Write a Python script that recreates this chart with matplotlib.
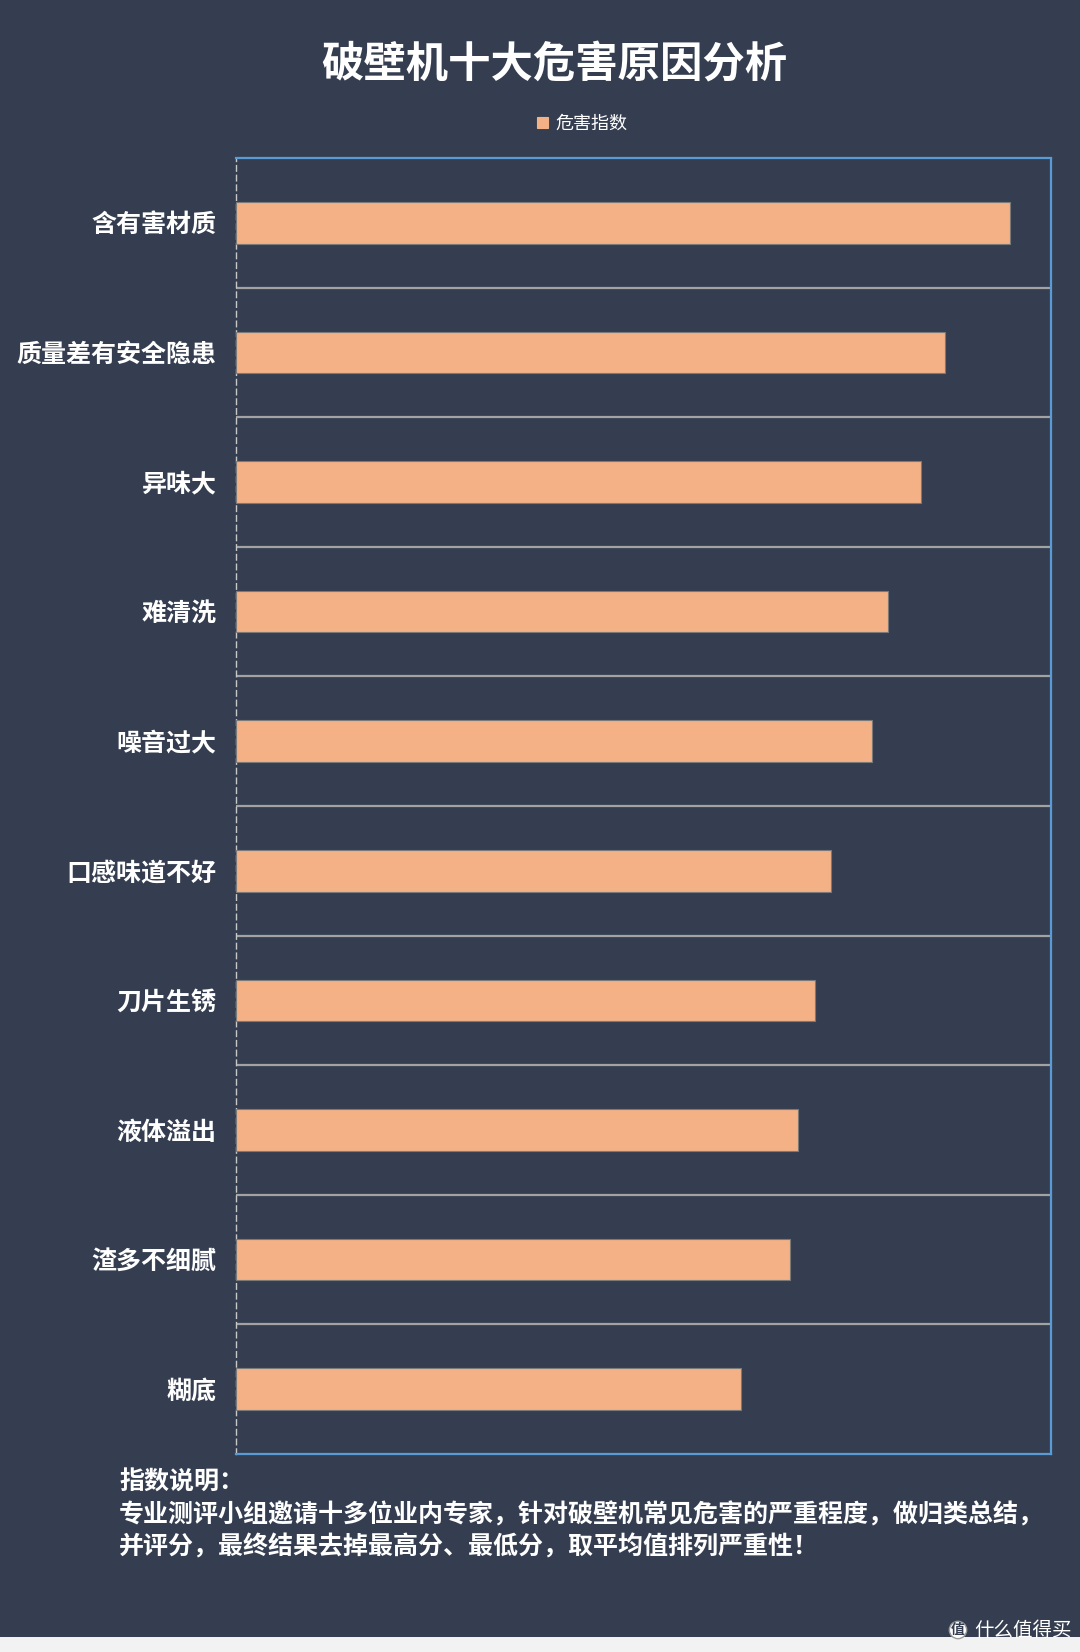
import matplotlib
matplotlib.use("Agg")
import matplotlib.pyplot as plt
from matplotlib.patches import Rectangle

plt.rcParams['font.family'] = ['Noto Sans CJK SC', 'DejaVu Sans']

# data (score out of 10)
categories = ['含有害材质', '质量差有安全隐患', '异味大', '难清洗', '噪音过大',
              '口感味道不好', '刀片生锈', '液体溢出', '渣多不细腻', '糊底']
scores = [9.5, 8.7, 8.4, 8.0, 7.8, 7.3, 7.1, 6.9, 6.8, 6.2]
series_name = '危害指数'
title = '破壁机十大危害原因分析'
note_lines = ['指数说明：',
              '专业测评小组邀请十多位业内专家，针对破壁机常见危害的严重程度，做归类总结，',
              '并评分，最终结果去掉最高分、最低分，取平均值排列严重性！']

bg = '#343e50'
bar_color = '#f3b185'

fig = plt.figure(figsize=(10.8, 16.52), dpi=100, facecolor=bg)
ax = fig.add_axes([236/1080, 1-1454/1652, 815/1080, 1296/1652])
ax.set_facecolor(bg)

pos = list(range(len(categories)))
ax.barh(pos, scores, height=0.32, color=bar_color, edgecolor='#7a7a7a',
        linewidth=0.8, label=series_name, zorder=3)
ax.set_xlim(0, 10)
ax.set_ylim(len(categories) - 0.5, -0.5)

ax.set_yticks(pos)
ax.set_yticklabels(categories, color='white', fontsize=18, fontweight='bold')
ax.tick_params(axis='y', which='major', length=0, pad=14)
ax.set_yticks([p + 0.5 for p in pos[:-1]], minor=True)
ax.tick_params(axis='y', which='minor', length=0)
ax.grid(axis='y', which='minor', color='#a3a3a3', linewidth=1.6, zorder=1)
ax.set_xticks([])

ax.spines['left'].set_color('#c8c8c8')
ax.spines['left'].set_linestyle((0, (4, 3)))
ax.spines['left'].set_linewidth(1.0)
for s in ['top', 'right', 'bottom']:
    ax.spines[s].set_color('#5b9bd5')
    ax.spines[s].set_linestyle((0, (1, 1)))
    ax.spines[s].set_linewidth(1.6)

fig.text(0.513, 1-65/1652, title, color='white', fontsize=30.5, fontweight='bold',
         ha='center', va='center')

handles, labels = ax.get_legend_handles_labels()
leg = fig.legend(handles, labels, loc='center', bbox_to_anchor=(0.539, 1-124/1652),
                 frameon=False, fontsize=13, labelcolor='white',
                 handlelength=0.6, handleheight=0.6, handletextpad=0.4)
for h in leg.legend_handles:
    h.set_edgecolor(bar_color)

for i, line in enumerate(note_lines):
    fig.text(119/1080, 1-(1483 + 32*i)/1652, line, color='white', fontsize=18,
             fontweight='bold', ha='left', va='center')

# light strip at the bottom edge and watermark
fig.patches.append(Rectangle((0, 0), 1, 15/1652, transform=fig.transFigure,
                             facecolor='#f2f2f2', edgecolor='none', zorder=0))
fig.text(958/1080, 1-1630/1652, '值', color='#343e50', fontsize=10,
         fontweight='bold', ha='center', va='center',
         bbox=dict(boxstyle='circle,pad=0.12', facecolor='white', edgecolor='#999999'))
fig.text(1072/1080, 1-1630/1652, '什么值得买', color='white', fontsize=14,
         ha='right', va='center')

fig.savefig('out.png', dpi=100, facecolor=bg)
